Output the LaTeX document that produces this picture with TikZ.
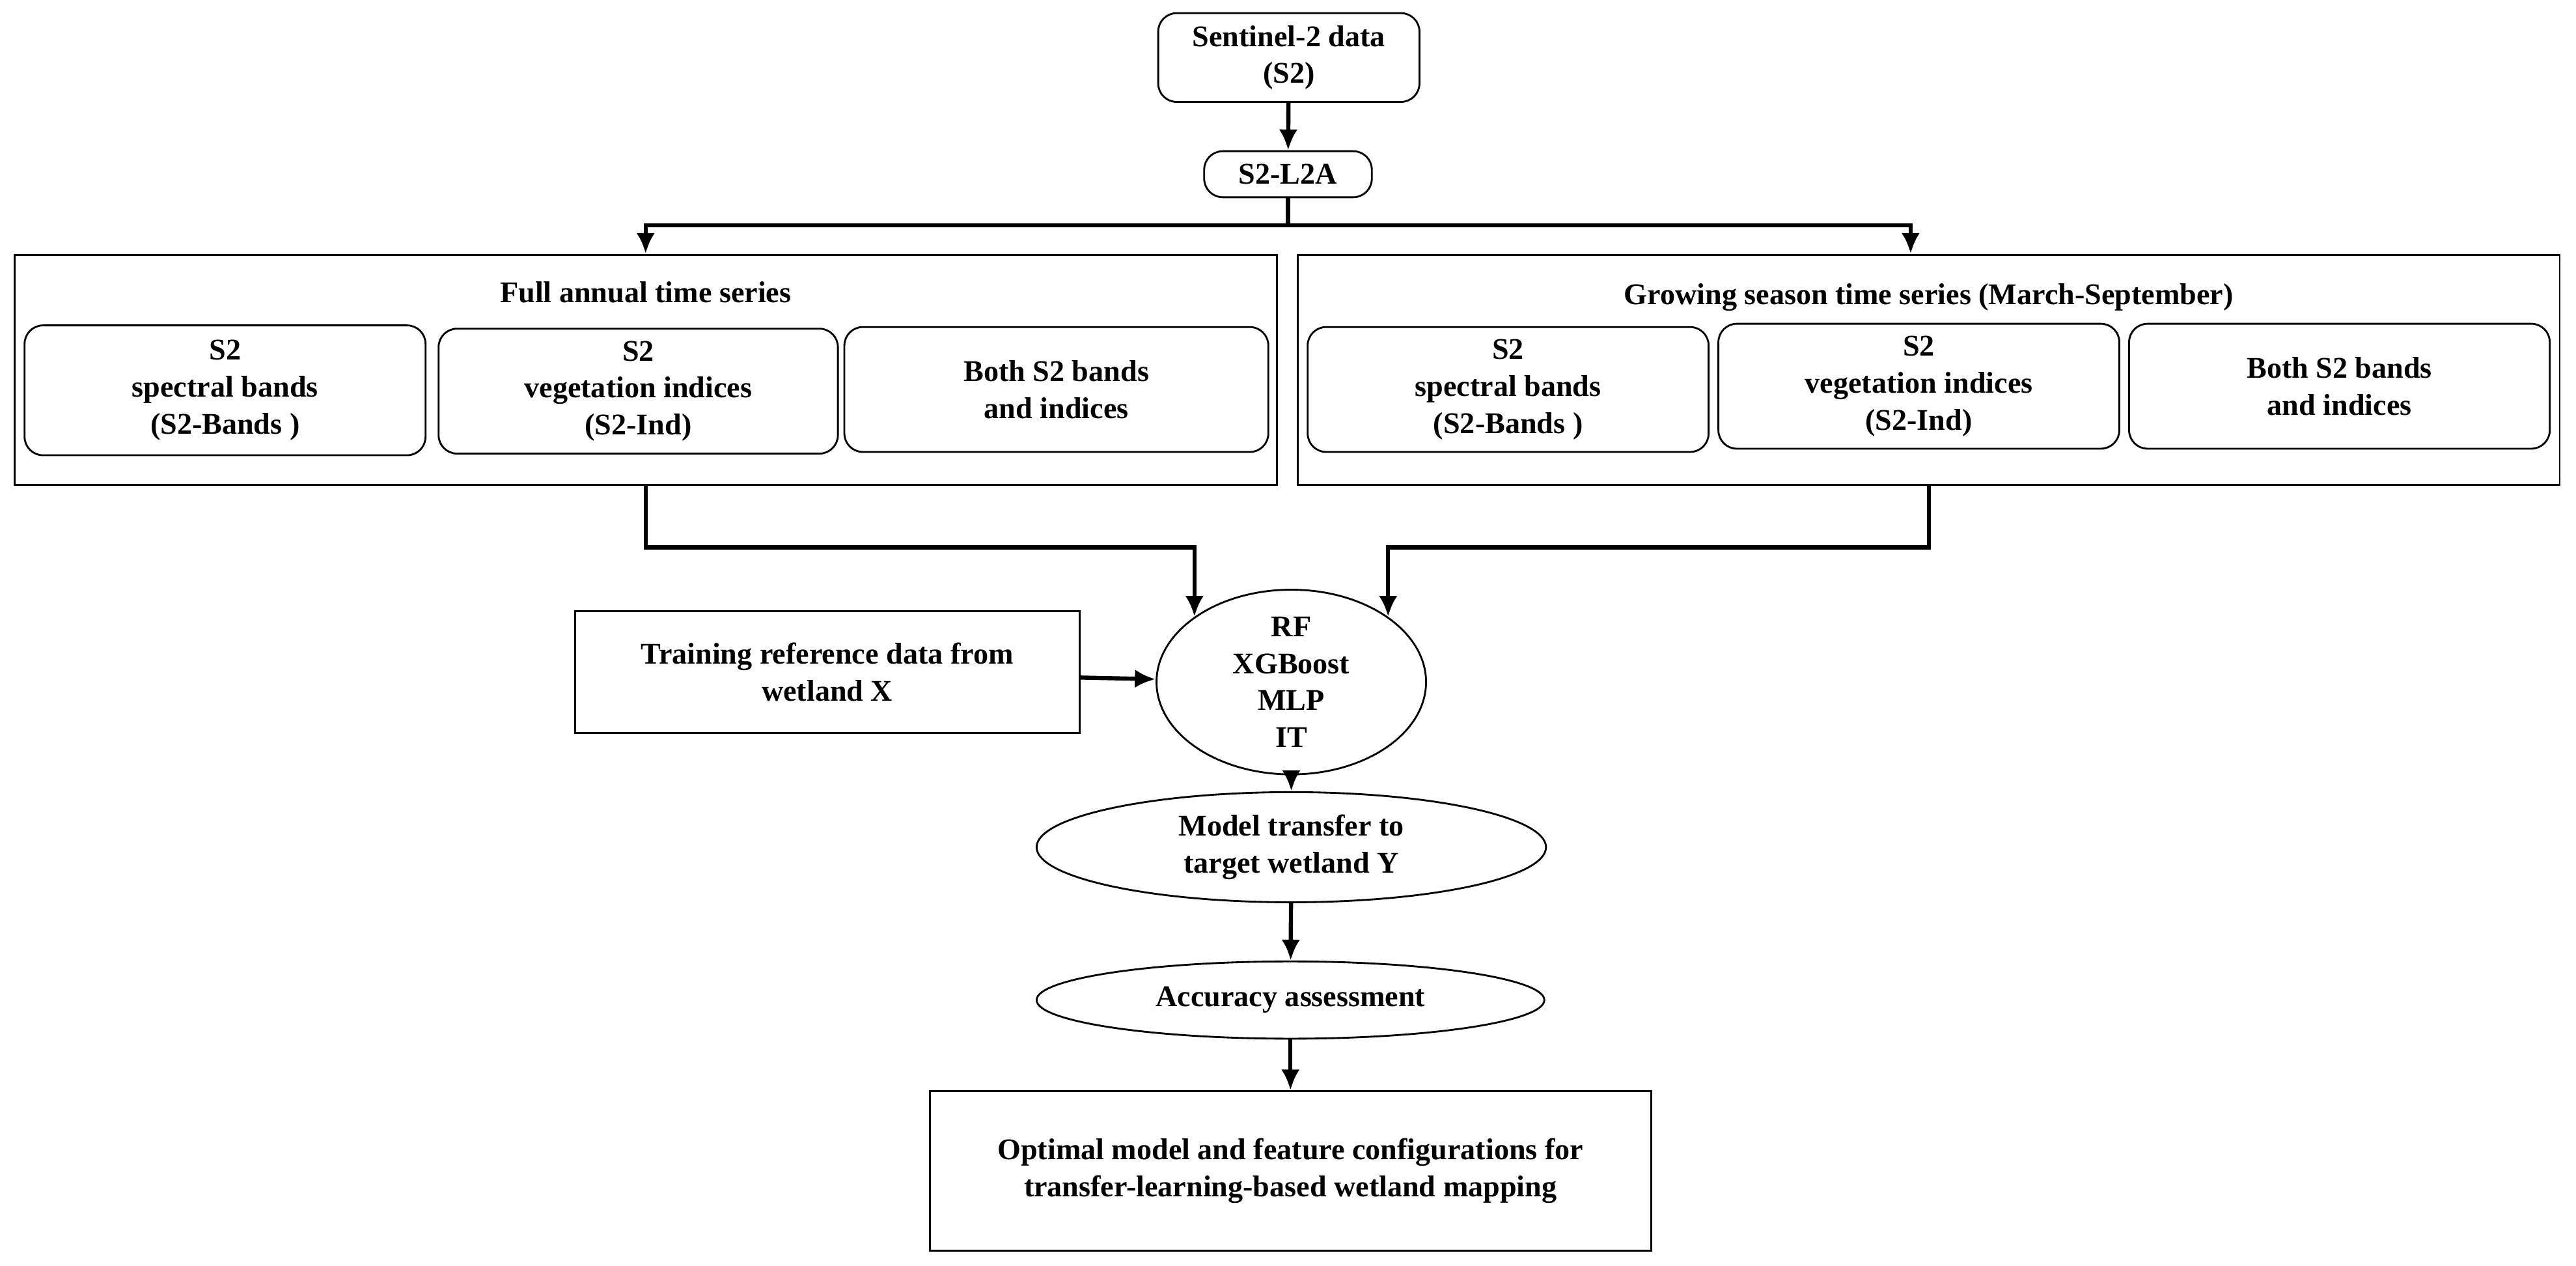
\documentclass[tikz,border=0pt]{standalone}
\usepackage{fontspec}
\setmainfont{Liberation Serif}
\usetikzlibrary{arrows.meta,shapes.geometric}
\tikzset{
  box/.style={draw,line width=0.8pt,align=center,font=\bfseries\fontsize{13}{16}\selectfont,inner sep=2pt},
  rbox/.style={box,rounded corners=8pt},
  oval/.style={box,ellipse},
  title/.style={font=\bfseries\fontsize{13}{16}\selectfont},
  flow/.style={line width=1.8pt,-{Latex[length=9pt,width=8pt]}},
}
\begin{document}
\begin{tikzpicture}[x=0.025cm,y=-0.025cm]
    \useasboundingbox (0,0) rectangle (1568,770);
    % top
    \node[rbox,minimum width=3.975cm,minimum height=1.35cm] (s2) at (784.5,35) {Sentinel-2 data\\(S2)};
    \node[rbox,minimum width=2.55cm,minimum height=0.7cm] (l2a) at (784,106) {S2-L2A};
    \draw[flow] (s2) -- (l2a);
    % two time series
    \node[box,minimum width=19.2cm,minimum height=3.5cm] (full) at (393,225) {};
    \node[box,minimum width=19.2cm,minimum height=3.5cm] (grow) at (1174,225) {};
    \node[title] at (393,178) {Full annual time series};
    \node[title] at (1174,181) {Growing season time series (March-September)};
    \node[rbox,minimum width=6.1cm,minimum height=1.975cm] (fb) at (137,237.5) {S2\\spectral bands\\(S2-Bands )};
    \node[rbox,minimum width=6.075cm,minimum height=1.9cm] (fi) at (388.5,238) {S2\\vegetation indices\\(S2-Ind)};
    \node[rbox,minimum width=6.45cm,minimum height=1.9cm] (fa) at (643,237) {Both S2 bands\\and indices};
    \node[rbox,minimum width=6.1cm,minimum height=1.9cm] (gb) at (918,237) {S2\\spectral bands\\(S2-Bands )};
    \node[rbox,minimum width=6.1cm,minimum height=1.9cm] (gi) at (1168,235) {S2\\vegetation indices\\(S2-Ind)};
    \node[rbox,minimum width=6.4cm,minimum height=1.9cm] (ga) at (1424,235) {Both S2 bands\\and indices};
    \coordinate (split) at (784,137);
    \draw[line width=1.8pt] (l2a) -- (split);
    \draw[flow] (split) -| (full.north);
    \draw[flow] (split) -| ([xshift=-0.275cm]grow.north);
    % models
    \node[oval,minimum width=4.1cm,minimum height=2.75cm,inner sep=0pt] (ml) at (786,415) {RF\\XGBoost\\MLP\\IT};
    \node[box,minimum width=7.675cm,minimum height=1.85cm] (train) at (503.5,409) {Training reference data from\\wetland X};
    \draw[flow] (full.south) -- (full.south |- 0,333) -| (ml.146);
    \draw[flow] (grow.south) -- (grow.south |- 0,333) -| (ml.34);
    \draw[flow] (train) -- (ml);
    % transfer and assessment
    \node[oval,minimum width=7.75cm,minimum height=1.675cm] (transfer) at (786,515.5) {Model transfer to\\target wetland Y};
    \node[oval,minimum width=7.725cm,minimum height=1.175cm] (acc) at (785.5,608.5) {Accuracy assessment};
    \node[box,minimum width=10.975cm,minimum height=2.425cm] (opt) at (785.5,712.5) {Optimal model and feature configurations for\\transfer-learning-based wetland mapping};
    \draw[flow] (ml) -- (transfer);
    \draw[flow] (transfer) -- (acc);
    \draw[flow] (acc) -- (opt);
\end{tikzpicture}
\end{document}
